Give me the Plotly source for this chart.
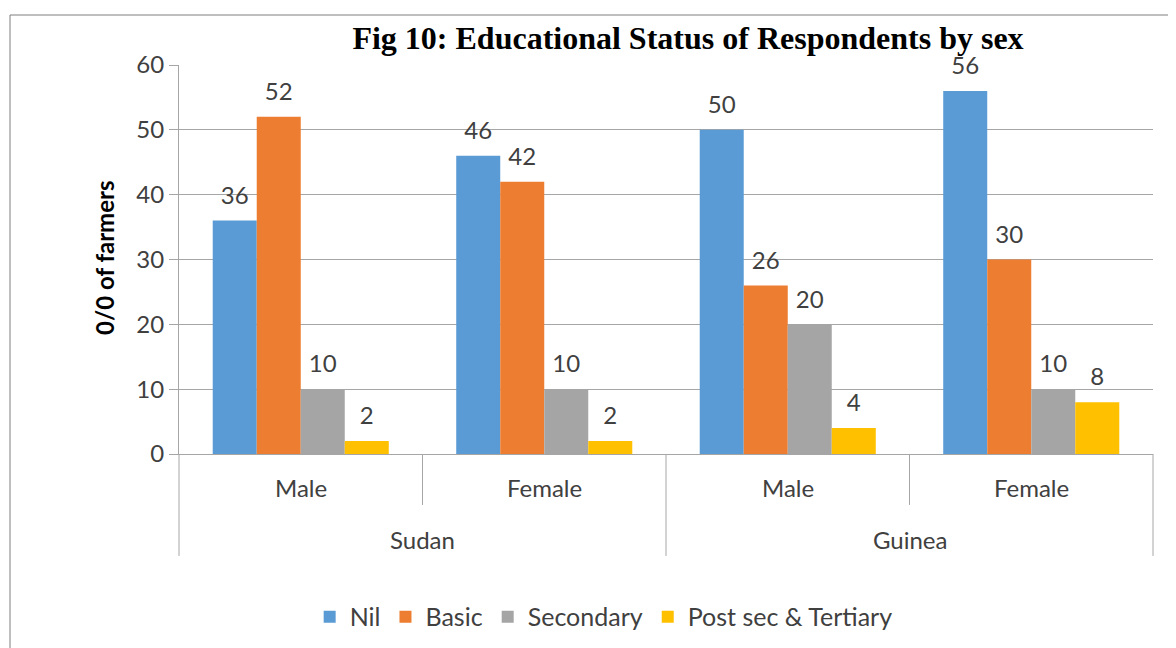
import plotly.graph_objects as go

countries = ["Sudan", "Sudan", "Guinea", "Guinea"]
sexes = ["Male", "Female", "Male", "Female"]
country_labels = ["Sudan", "Guinea"]

nil = [36, 46, 50, 56]
basic = [52, 42, 26, 30]
secondary = [10, 10, 20, 10]
post_sec = [2, 2, 4, 8]

series = [
    ("Nil", nil, "#5B9BD5"),
    ("Basic", basic, "#ED7D31"),
    ("Secondary", secondary, "#A5A5A5"),
    ("Post sec & Tertiary", post_sec, "#FFC000"),
]

FONT = "Lato, Open Sans, sans-serif"
GRAY = "#A6A6A6"
TEXT = "#404040"
tick_font = dict(family=FONT, size=24, color=TEXT)

# page has an 8px body margin, so the figure is a bit smaller than the window
W, H = 1168, 640

fig = go.Figure()
for name, values, color in series:
    fig.add_trace(
        go.Bar(
            x=[countries, sexes],
            y=values,
            name=name,
            marker=dict(color=color, line=dict(width=0)),
            text=[str(v) for v in values],
            # small empty second line lifts the label off the bar a little
            texttemplate="<span style='font-size:24px'>%{text}</span><br> ",
            textposition="outside",
            textfont=dict(family=FONT, size=9, color=TEXT),
            cliponaxis=False,
        )
    )

fig.update_layout(
    width=W,
    height=H,
    barmode="group",
    bargap=0.277,
    bargroupgap=0,
    plot_bgcolor="white",
    paper_bgcolor="white",
    margin=dict(l=171, r=23, t=57, b=194, autoexpand=False),
    title=dict(
        text="<b>Fig 10: Educational Status of Respondents by sex</b>",
        font=dict(family="Liberation Serif, Times New Roman, serif", size=32, color="black"),
        xref="container",
        x=680 / W,
        xanchor="center",
        yref="container",
        y=1 - 30 / H,
        yanchor="middle",
    ),
    legend=dict(
        orientation="h",
        x=0.436,
        xanchor="center",
        y=-0.419,
        yanchor="middle",
        font=dict(family=FONT, size=25, color=TEXT),
        traceorder="normal",
    ),
    showlegend=True,
)

fig.update_yaxes(
    range=[0, 60],
    dtick=10,
    showgrid=True,
    gridcolor=GRAY,
    gridwidth=1,
    showline=True,
    linecolor=GRAY,
    ticks="outside",
    ticklen=9,
    tickcolor=GRAY,
    tickfont=tick_font,
    zeroline=False,
    automargin=False,
)

fig.update_xaxes(
    showline=True,
    linecolor=GRAY,
    showticklabels=False,
    showdividers=False,
    ticks="",
    automargin=False,
)

# category labels and dividers under the axis
n = len(sexes)
for i, sex in enumerate(sexes):
    fig.add_annotation(
        text=sex, xref="paper", yref="paper", x=(i + 0.5) / n, y=-0.0874,
        showarrow=False, font=tick_font, xanchor="center", yanchor="middle",
    )
for j, country in enumerate(country_labels):
    fig.add_annotation(
        text=country, xref="paper", yref="paper", x=(j + 0.5) / len(country_labels), y=-0.221,
        showarrow=False, font=tick_font, xanchor="center", yanchor="middle",
    )
for i in range(n + 1):
    outer = i % 2 == 0
    fig.add_shape(
        type="line", xref="paper", yref="paper", x0=i / n, x1=i / n,
        y0=0, y1=-0.262 if outer else -0.131,
        line=dict(color=GRAY, width=1),
    )

fig.add_annotation(
    text="<b>0/0 of farmers</b>",
    xref="paper",
    yref="paper",
    x=-0.076,
    y=0.504,
    textangle=-90,
    showarrow=False,
    font=dict(family=FONT, size=24, color="black"),
    xanchor="center",
    yanchor="middle",
)

fig.add_shape(
    type="rect",
    xref="paper",
    yref="paper",
    x0=-0.1735,
    x1=1.2,
    y0=-0.6,
    y1=1.1285,
    line=dict(color="#7F7F7F", width=1),
    fillcolor="rgba(0,0,0,0)",
    layer="below",
)

fig.write_html("out.html")
